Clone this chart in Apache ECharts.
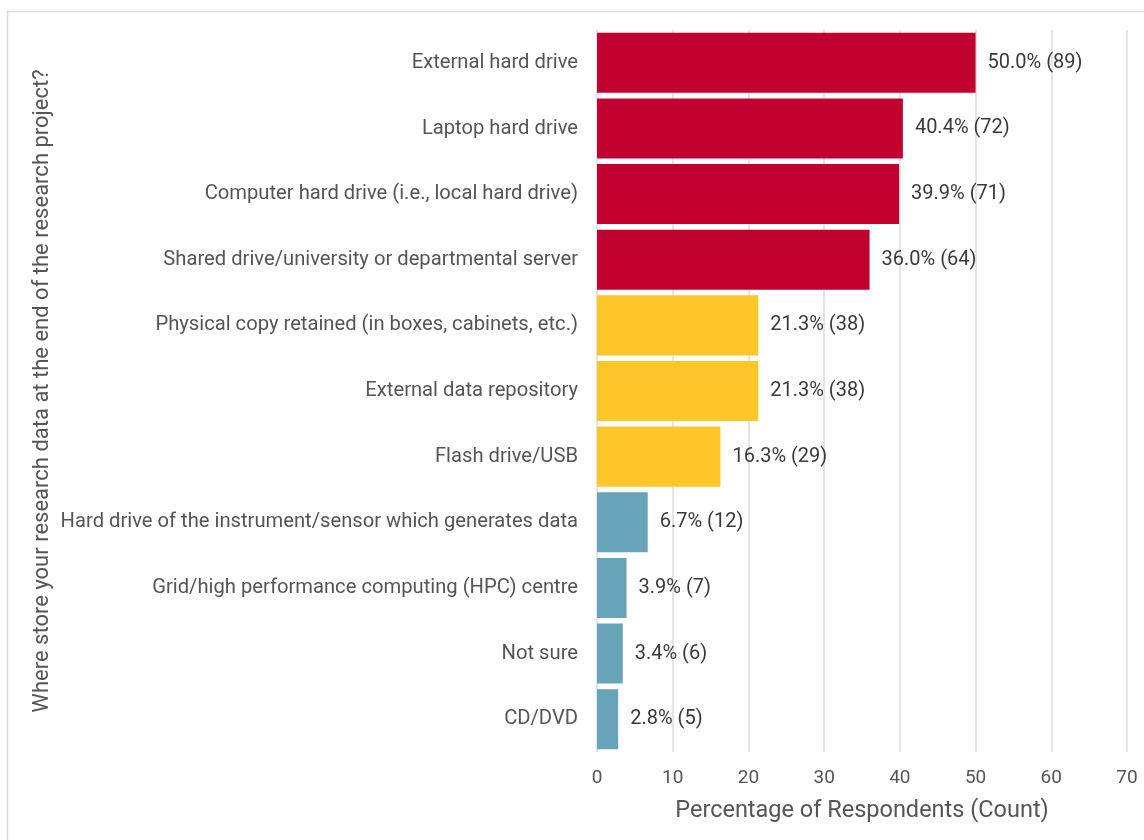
<!DOCTYPE html>
<html>
<head>
<meta charset="utf-8">
<title>Research data storage</title>
<script src="https://cdn.jsdelivr.net/npm/echarts@6/dist/echarts.min.js"></script>
<style>
  html, body { margin: 0; padding: 0; background: #fff; }
  #chart { width: 1144px; height: 840px; }
</style>
</head>
<body>
<div id="chart"></div>
<script>
// Storage locations, top to bottom
const categories = [
  'External hard drive',
  'Laptop hard drive',
  'Computer hard drive (i.e., local hard drive)',
  'Shared drive/university or departmental server',
  'Physical copy retained (in boxes, cabinets, etc.)',
  'External data repository',
  'Flash drive/USB',
  'Hard drive of the instrument/sensor which generates data',
  'Grid/high performance computing (HPC) centre',
  'Not sure',
  'CD/DVD'
];

// Share of respondents (%) and respondent counts
const percentages = [50.0, 40.4, 39.9, 36.0, 21.3, 21.3, 16.3, 6.7, 3.9, 3.4, 2.8];
const counts = [89, 72, 71, 64, 38, 38, 29, 12, 7, 6, 5];

// Usage tier of each location
const tiers = ['high', 'high', 'high', 'high', 'mid', 'mid', 'mid', 'low', 'low', 'low', 'low'];

// X axis ticks
const xTicks = [0, 10, 20, 30, 40, 50, 60, 70];

const tierColors = { high: '#C10230', mid: '#FFC629', low: '#67A3B9' };
const FONT = 'Roboto, "Noto Sans", sans-serif';

const chart = echarts.init(document.getElementById('chart'), null, { renderer: 'canvas' });

chart.setOption({
  backgroundColor: '#fff',
  animation: false,
  graphic: [{
    type: 'rect',
    shape: { x: 7.5, y: 11.5, width: 1200, height: 900 },
    style: { fill: 'none', stroke: '#dcdcdc', lineWidth: 1.5 },
    silent: true,
    z: -10
  }],
  grid: { left: 597, right: 17, top: 30, bottom: 88, containLabel: false },
  xAxis: {
    type: 'value',
    min: xTicks[0],
    max: xTicks[xTicks.length - 1],
    interval: xTicks[1] - xTicks[0],
    name: 'Percentage of Respondents (Count)',
    nameLocation: 'middle',
    nameGap: 47,
    nameTextStyle: { fontFamily: FONT, fontSize: 23.5, color: '#555' },
    axisLine: { show: false },
    axisTick: { show: false },
    axisLabel: { fontFamily: FONT, fontSize: 19, color: '#555', margin: 17 },
    splitLine: { show: true, lineStyle: { color: '#dddddd', width: 1.5 } }
  },
  yAxis: {
    type: 'category',
    inverse: true,
    data: categories,
    name: 'Where store your research data at the end of the research project?',
    nameLocation: 'middle',
    nameGap: 544,
    nameRotate: 90,
    nameTextStyle: { fontFamily: FONT, fontSize: 22, color: '#555' },
    axisLine: { show: false },
    axisTick: { show: false },
    axisLabel: { fontFamily: FONT, fontSize: 20.2, color: '#555', margin: 19, padding: [2, 0, 0, 0] },
    splitLine: { show: false }
  },
  series: [{
    type: 'bar',
    barCategoryGap: '8.5%',
    data: percentages.map((v, i) => ({
      value: v,
      itemStyle: { color: tierColors[tiers[i]] }
    })),
    label: {
      show: true,
      position: 'right',
      distance: 12,
      fontFamily: FONT,
      fontSize: 20,
      color: '#3a3a3a',
      padding: [2, 0, 0, 0],
      formatter: p => p.value.toFixed(1) + '% (' + counts[p.dataIndex] + ')'
    }
  }]
});
</script>
</body>
</html>
